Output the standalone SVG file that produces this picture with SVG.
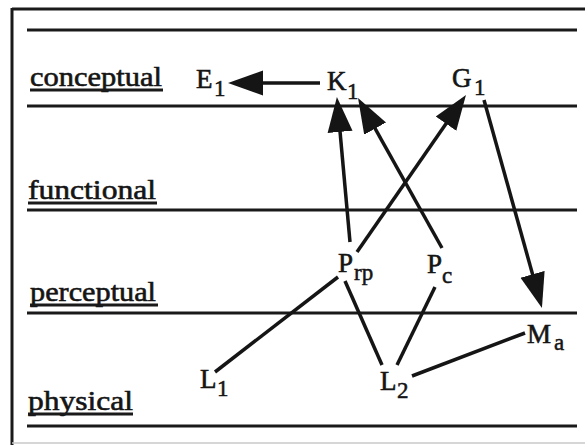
<svg xmlns="http://www.w3.org/2000/svg" width="585" height="445" viewBox="0 0 585 445">
<style>
.lbl{font-family:"Liberation Serif","Times New Roman",serif;font-size:28px;fill:#151515;stroke:#151515;stroke-width:0.6;}
.nd{font-family:"Liberation Serif","Times New Roman",serif;font-size:27px;fill:#151515;stroke:#151515;stroke-width:0.6;}
.sub{font-family:"Liberation Serif","Times New Roman",serif;font-size:23px;fill:#151515;stroke:#151515;stroke-width:0.5;}
.rule{stroke:#1a1a1a;stroke-width:3;fill:none;}
.ul{stroke:#1a1a1a;stroke-width:3;fill:none;}
.edge{stroke:#151515;stroke-width:3.5;fill:none;}
.arr{stroke:#151515;stroke-width:3.5;fill:none;marker-end:url(#ah);}
</style>
<defs>
<marker id="ah" markerUnits="userSpaceOnUse" markerWidth="36" markerHeight="28" viewBox="0 0 36 28" refX="24" refY="14" orient="auto">
<path d="M0,1.5 L35,14 L0,26.5 Z" fill="#151515"/>
</marker>
</defs>
<rect width="585" height="445" fill="#fff"/>
<g id="frame">
<line class="rule" x1="12" y1="9" x2="585" y2="9"/>
<line class="rule" x1="12" y1="8" x2="12" y2="445"/>
<line x1="12" y1="443" x2="585" y2="443" stroke="#c8c8c8" stroke-width="1.5"/>
</g>
<g id="levels">
<line class="rule" x1="27" y1="30" x2="577" y2="30"/>
<line class="rule" x1="27" y1="106" x2="577" y2="106"/>
<line class="rule" x1="27" y1="210" x2="577" y2="210"/>
<line class="rule" x1="27" y1="313" x2="577" y2="313"/>
<line class="rule" x1="27" y1="426" x2="577" y2="426"/>
</g>
<g id="level-labels">
<text class="lbl" x="30" y="86" textLength="132" lengthAdjust="spacingAndGlyphs">conceptual</text>
<line class="ul" x1="30" y1="90" x2="163" y2="90"/>
<text class="lbl" x="28" y="199" textLength="128" lengthAdjust="spacingAndGlyphs">functional</text>
<line class="ul" x1="28" y1="203" x2="157" y2="203"/>
<text class="lbl" x="30" y="301" textLength="126" lengthAdjust="spacingAndGlyphs">perceptual</text>
<line class="ul" x1="30" y1="305" x2="158" y2="305"/>
<text class="lbl" x="28" y="410" textLength="105" lengthAdjust="spacingAndGlyphs">physical</text>
<line class="ul" x1="28" y1="414" x2="133" y2="414"/>
</g>
<g id="connectors">
<line class="arr" x1="320" y1="83" x2="239" y2="83"/>
<line class="arr" x1="350" y1="242" x2="337.9" y2="108"/>
<line class="arr" x1="442" y1="248" x2="363.4" y2="107.6"/>
<line class="arr" x1="357" y1="252" x2="459.7" y2="104"/>
<line class="arr" x1="484" y1="100" x2="539" y2="297.4"/>
<line class="edge" x1="338" y1="277" x2="215" y2="372"/>
<line class="edge" x1="345" y1="281" x2="382" y2="365"/>
<line class="edge" x1="435" y1="287" x2="397" y2="365"/>
<line class="edge" x1="412" y1="376" x2="525" y2="333"/>
</g>
<g id="E1"><text class="nd" x="196" y="88">E</text><text class="sub" x="214" y="96">1</text></g>
<g id="K1"><text class="nd" x="327" y="90">K</text><text class="sub" x="347" y="99">1</text></g>
<g id="G1"><text class="nd" x="452" y="87">G</text><text class="sub" x="474" y="95">1</text></g>
<g id="Prp"><text class="nd" x="338" y="272">P</text><text class="sub" x="354" y="280">rp</text></g>
<g id="Pc"><text class="nd" x="427" y="273">P</text><text class="sub" x="442" y="283">c</text></g>
<g id="Ma"><text class="nd" x="527" y="343">M</text><text class="sub" x="554" y="350">a</text></g>
<g id="L1"><text class="nd" x="200" y="388">L</text><text class="sub" x="217" y="396">1</text></g>
<g id="L2"><text class="nd" x="380" y="390">L</text><text class="sub" x="397" y="398">2</text></g>
</svg>
